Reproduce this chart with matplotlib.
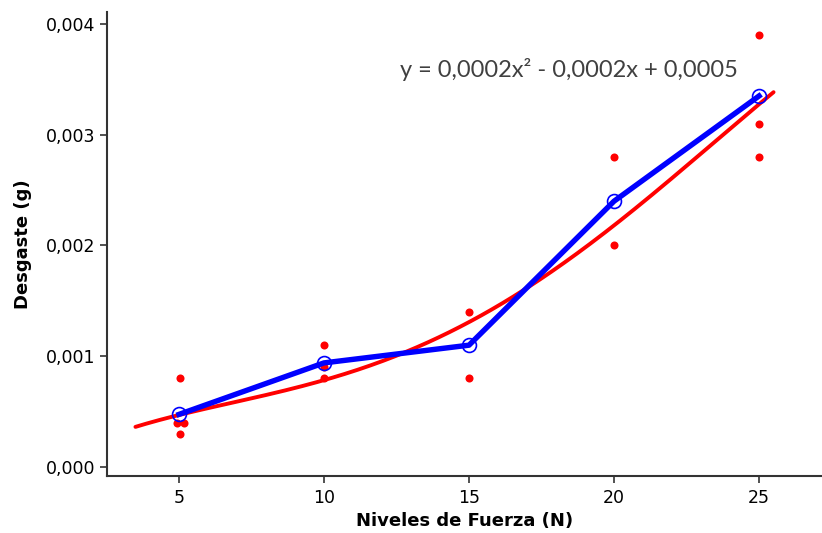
import matplotlib
matplotlib.use("Agg")
import matplotlib.pyplot as plt
import numpy as np

# raw measurements (red dots)
fuerza_pts = [4.92, 5.16, 5.03, 5.03, 10, 10, 10, 15, 15, 20, 20, 25, 25, 25]
desgaste_pts = [0.0004, 0.0004, 0.0003, 0.0008,
                0.0011, 0.0009, 0.0008,
                0.0014, 0.0008,
                0.0028, 0.0020,
                0.0039, 0.0031, 0.0028]

# means per force level (blue line)
niveles = [5, 10, 15, 20, 25]
medias = [0.000475, 0.00094, 0.0011, 0.0024, 0.00335]

# points
curva_x = [3.5, 5, 7.5, 10, 12.5, 15, 17, 19.5, 22.5, 25.5]
curva_y = [0.00037, 0.00046, 0.00061, 0.0008, 0.00101, 0.00131,
           0.0016, 0.00208, 0.00273, 0.00338]

y_ticks = [0.0, 0.001, 0.002, 0.003, 0.004]
y_labels = ["0,000", "0,001", "0,002", "0,003", "0,004"]
ecuacion = "y = 0,0002x² - 0,0002x + 0,0005"

plt.rcParams["font.family"] = ["DejaVu Sans"]

fig = plt.figure(figsize=(8.22, 5.33), dpi=100)
ax = fig.add_axes([0.1302, 0.1069, 0.8698, 0.8706])

# smooth the read curve points
fit = np.polynomial.Polynomial.fit(curva_x, curva_y, 4)
xs = np.linspace(min(curva_x), max(curva_x), 300)
ax.plot(xs, fit(xs), color="#ff0000", lw=2.8, zorder=2,
        solid_capstyle="round")

ax.plot(fuerza_pts, desgaste_pts, "o", color="#ff0000", ms=5.8,
        mec="none", zorder=1)

ax.plot(niveles, medias, color="#0000ff", lw=3.9, zorder=3)
ax.plot(niveles, medias, "o", ms=10, mfc="none", mec="#0000ff",
        mew=1.2, zorder=4)

ax.text(12.62, 0.003585, ecuacion, fontsize=17, color="#404040",
        family=["Lato", "DejaVu Sans"], va="center", ha="left", zorder=5)

ax.set_xlim(2.52, 27.17)
ax.set_ylim(-0.0000813, 0.004108)
ax.set_xticks(niveles)
ax.set_xticklabels([str(n) for n in niveles])
ax.set_yticks(y_ticks)
ax.set_yticklabels(y_labels)

for s in ["top", "right"]:
    ax.spines[s].set_visible(False)
for s in ["left", "bottom"]:
    ax.spines[s].set_color("#333333")
    ax.spines[s].set_linewidth(1.5)

ax.tick_params(axis="both", colors="#333333", labelcolor="black",
               length=5, width=1.2, labelsize=12.5)
ax.tick_params(axis="x", pad=4)

ax.set_xlabel("Niveles de Fuerza (N)", fontsize=13, fontweight="bold",
              labelpad=4)
ax.set_ylabel("Desgaste (g)", fontsize=13, fontweight="bold", labelpad=10)

fig.savefig("out.png", dpi=100)
